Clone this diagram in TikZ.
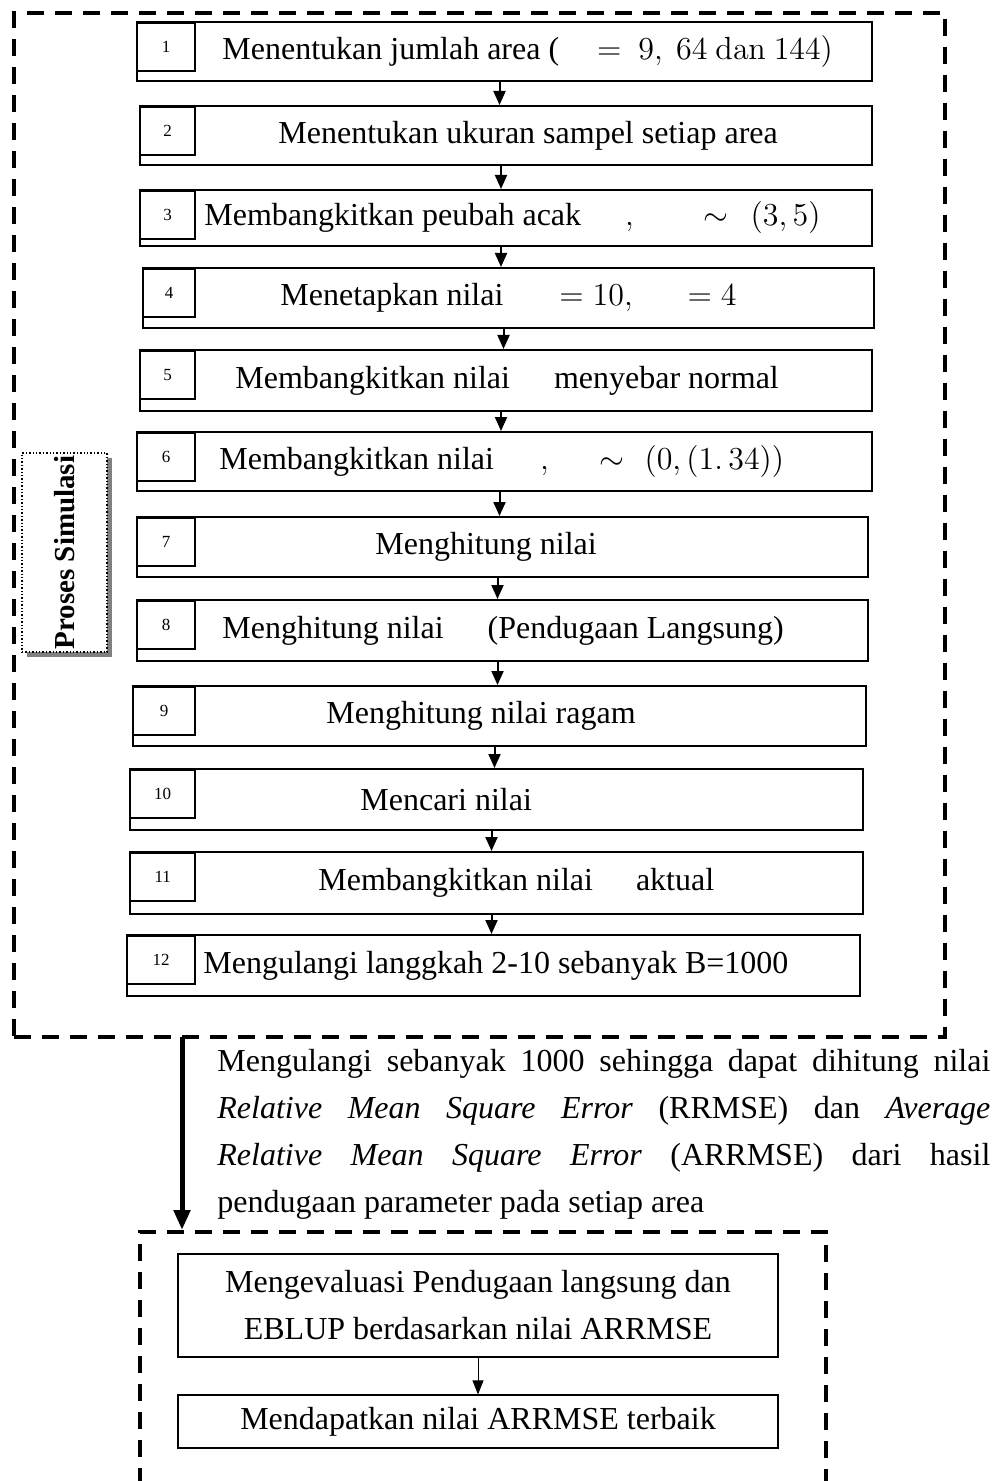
\RequirePackage{fix-cm}
\documentclass[tikz,border=0pt]{standalone}
\usepackage[no-math]{fontspec}
\setmainfont{Liberation Serif}
\usetikzlibrary{arrows.meta,shadows}
\tikzset{
  stepbox/.style={draw, line width=1pt, inner sep=0pt},
  numbox/.style={draw, line width=1.2pt, inner sep=0pt, anchor=north west, minimum height=24pt, font=\fontsize{8.5}{10}\selectfont},
  steptext/.style={anchor=west, inner sep=0pt, font=\fontsize{16}{18}\selectfont},
  flow/.style={line width=1pt, -{Triangle[length=7pt,width=6pt]}},
  thinflow/.style={line width=0.5pt, -{Triangle[length=7pt,width=5.5pt]}},
  bigflow/.style={line width=2.5pt, -{Triangle[length=10pt,width=8pt]}},
  group/.style={draw, line width=2pt, dash pattern=on 8.5pt off 5.5pt, inner sep=0pt},
  sidebox/.style={draw, densely dotted, line width=0.7pt, fill=white, inner sep=0pt,
    drop shadow={shadow xshift=2.5pt, shadow yshift=-2.5pt, fill=gray, opacity=1}},
  evalbox/.style={draw, line width=0.6pt, align=center, inner sep=0pt, font=\fontsize{16}{23.5}\selectfont},
}
\begin{document}
\begin{tikzpicture}[x=0.5pt, y=-0.5pt]
\useasboundingbox (0,0) rectangle (992,1481);
% dashed group boxes
\node[group, minimum width=465.5pt, minimum height=512pt] (sim) at (479.5,525) {};
\node[group, minimum width=343pt, minimum height=134pt] (eval) at (483,1366) {};
% step boxes with their numbers
\foreach \i/\xl/\xr/\yt/\yb in {1/137/872/22/81, 2/140/872/106/165, 3/140/872/190/246,
  4/143/874/268/328, 5/140/872/350/411, 6/137/872/432/491, 7/137/868/517/577,
  8/137/868/600/661, 9/133/866/686/746, 10/130/863/769/830, 11/130/863/852/914,
  12/127/860/935/996}
{
  \node[stepbox, minimum width={(\xr-\xl)*0.5pt}, minimum height={(\yb-\yt)*0.5pt}]
    (s\i) at ({(\xl+\xr)/2},{(\yt+\yb)/2}) {};
  \node[numbox, minimum width={(195-\xl)*0.5pt}] (n\i) at (\xl-1,\yt) {\i};
}
\foreach \i in {1,...,11}
{
  \pgfmathtruncatemacro\j{\i+1}
  \draw[flow] ([xshift=-2.5pt]s\i.south) -- ([xshift=-2.5pt]s\i.south |- s\j.north);
}
% step texts
\node[steptext] (t1) at (222,51.5) {Menentukan jumlah area (\hspace{19pt}$=\ 9,\ 64\ \mathrm{dan}\ 144)$};
\node[steptext] (t2) at (278,135.5) {Menentukan ukuran sampel setiap area};
\node[steptext] (t3) at (204,218) {Membangkitkan peubah acak\hspace{22pt}$,$\hspace{35pt}$\sim$\hspace{11pt}$(3, 5)$};
\node[steptext] (t4) at (280,298) {Menetapkan nilai\hspace{28pt}$=10,$\hspace{27.5pt}$=4$};
\node[steptext] (t5) at (235,380.5) {Membangkitkan nilai\hspace{22pt}menyebar normal};
\node[steptext] (t6) at (219,461.5) {Membangkitkan nilai\hspace{23pt}$,$\hspace{25.5pt}$\sim$\hspace{10pt}$(0, (1.\,34))$};
\node[steptext] (t7) at (375,547) {Menghitung nilai};
\node[steptext] (t8) at (222,630.5) {Menghitung nilai\hspace{22pt}(Pendugaan Langsung)};
\node[steptext] (t9) at (326,716) {Menghitung nilai ragam};
\node[steptext] (t10) at (360,799.5) {Mencari nilai};
\node[steptext] (t11) at (318,883) {Membangkitkan nilai\hspace{21.5pt}aktual};
\node[steptext] (t12) at (203,965.5) {Mengulangi langgkah 2-10 sebanyak B=1000};
% side label
\node[sidebox, minimum width=42.5pt, minimum height=99.5pt] (side) at (64.5,552.5)
  {\rotatebox{90}{\fontsize{14.5}{16}\selectfont\bfseries Proses Simulasi}};
% repetition note and evaluation
\coordinate (down) at (182,1037);
\draw[bigflow] (down) -- (down |- eval.north);
\node[anchor=north west, text width=386.5pt, align=justify, inner sep=0pt,
  font=\fontsize{16}{23.5}\selectfont] (note) at (217,1049)
  {Mengulangi sebanyak 1000 sehingga dapat dihitung nilai\linebreak
   \textit{Relative Mean Square Error} (RRMSE) dan \textit{Average}\linebreak
   \textit{Relative Mean Square Error} (ARRMSE) dari hasil\linebreak
   pendugaan parameter pada setiap area};
\node[evalbox, minimum width=300pt, minimum height=51.5pt] (evala) at (478,1305.5)
  {Mengevaluasi Pendugaan langsung dan\\EBLUP berdasarkan nilai ARRMSE};
\node[evalbox, minimum width=300pt, minimum height=26.5pt] (evalb) at (478,1421.5)
  {Mendapatkan nilai ARRMSE terbaik};
\draw[thinflow] (evala) -- (evalb);
\end{tikzpicture}
\end{document}
